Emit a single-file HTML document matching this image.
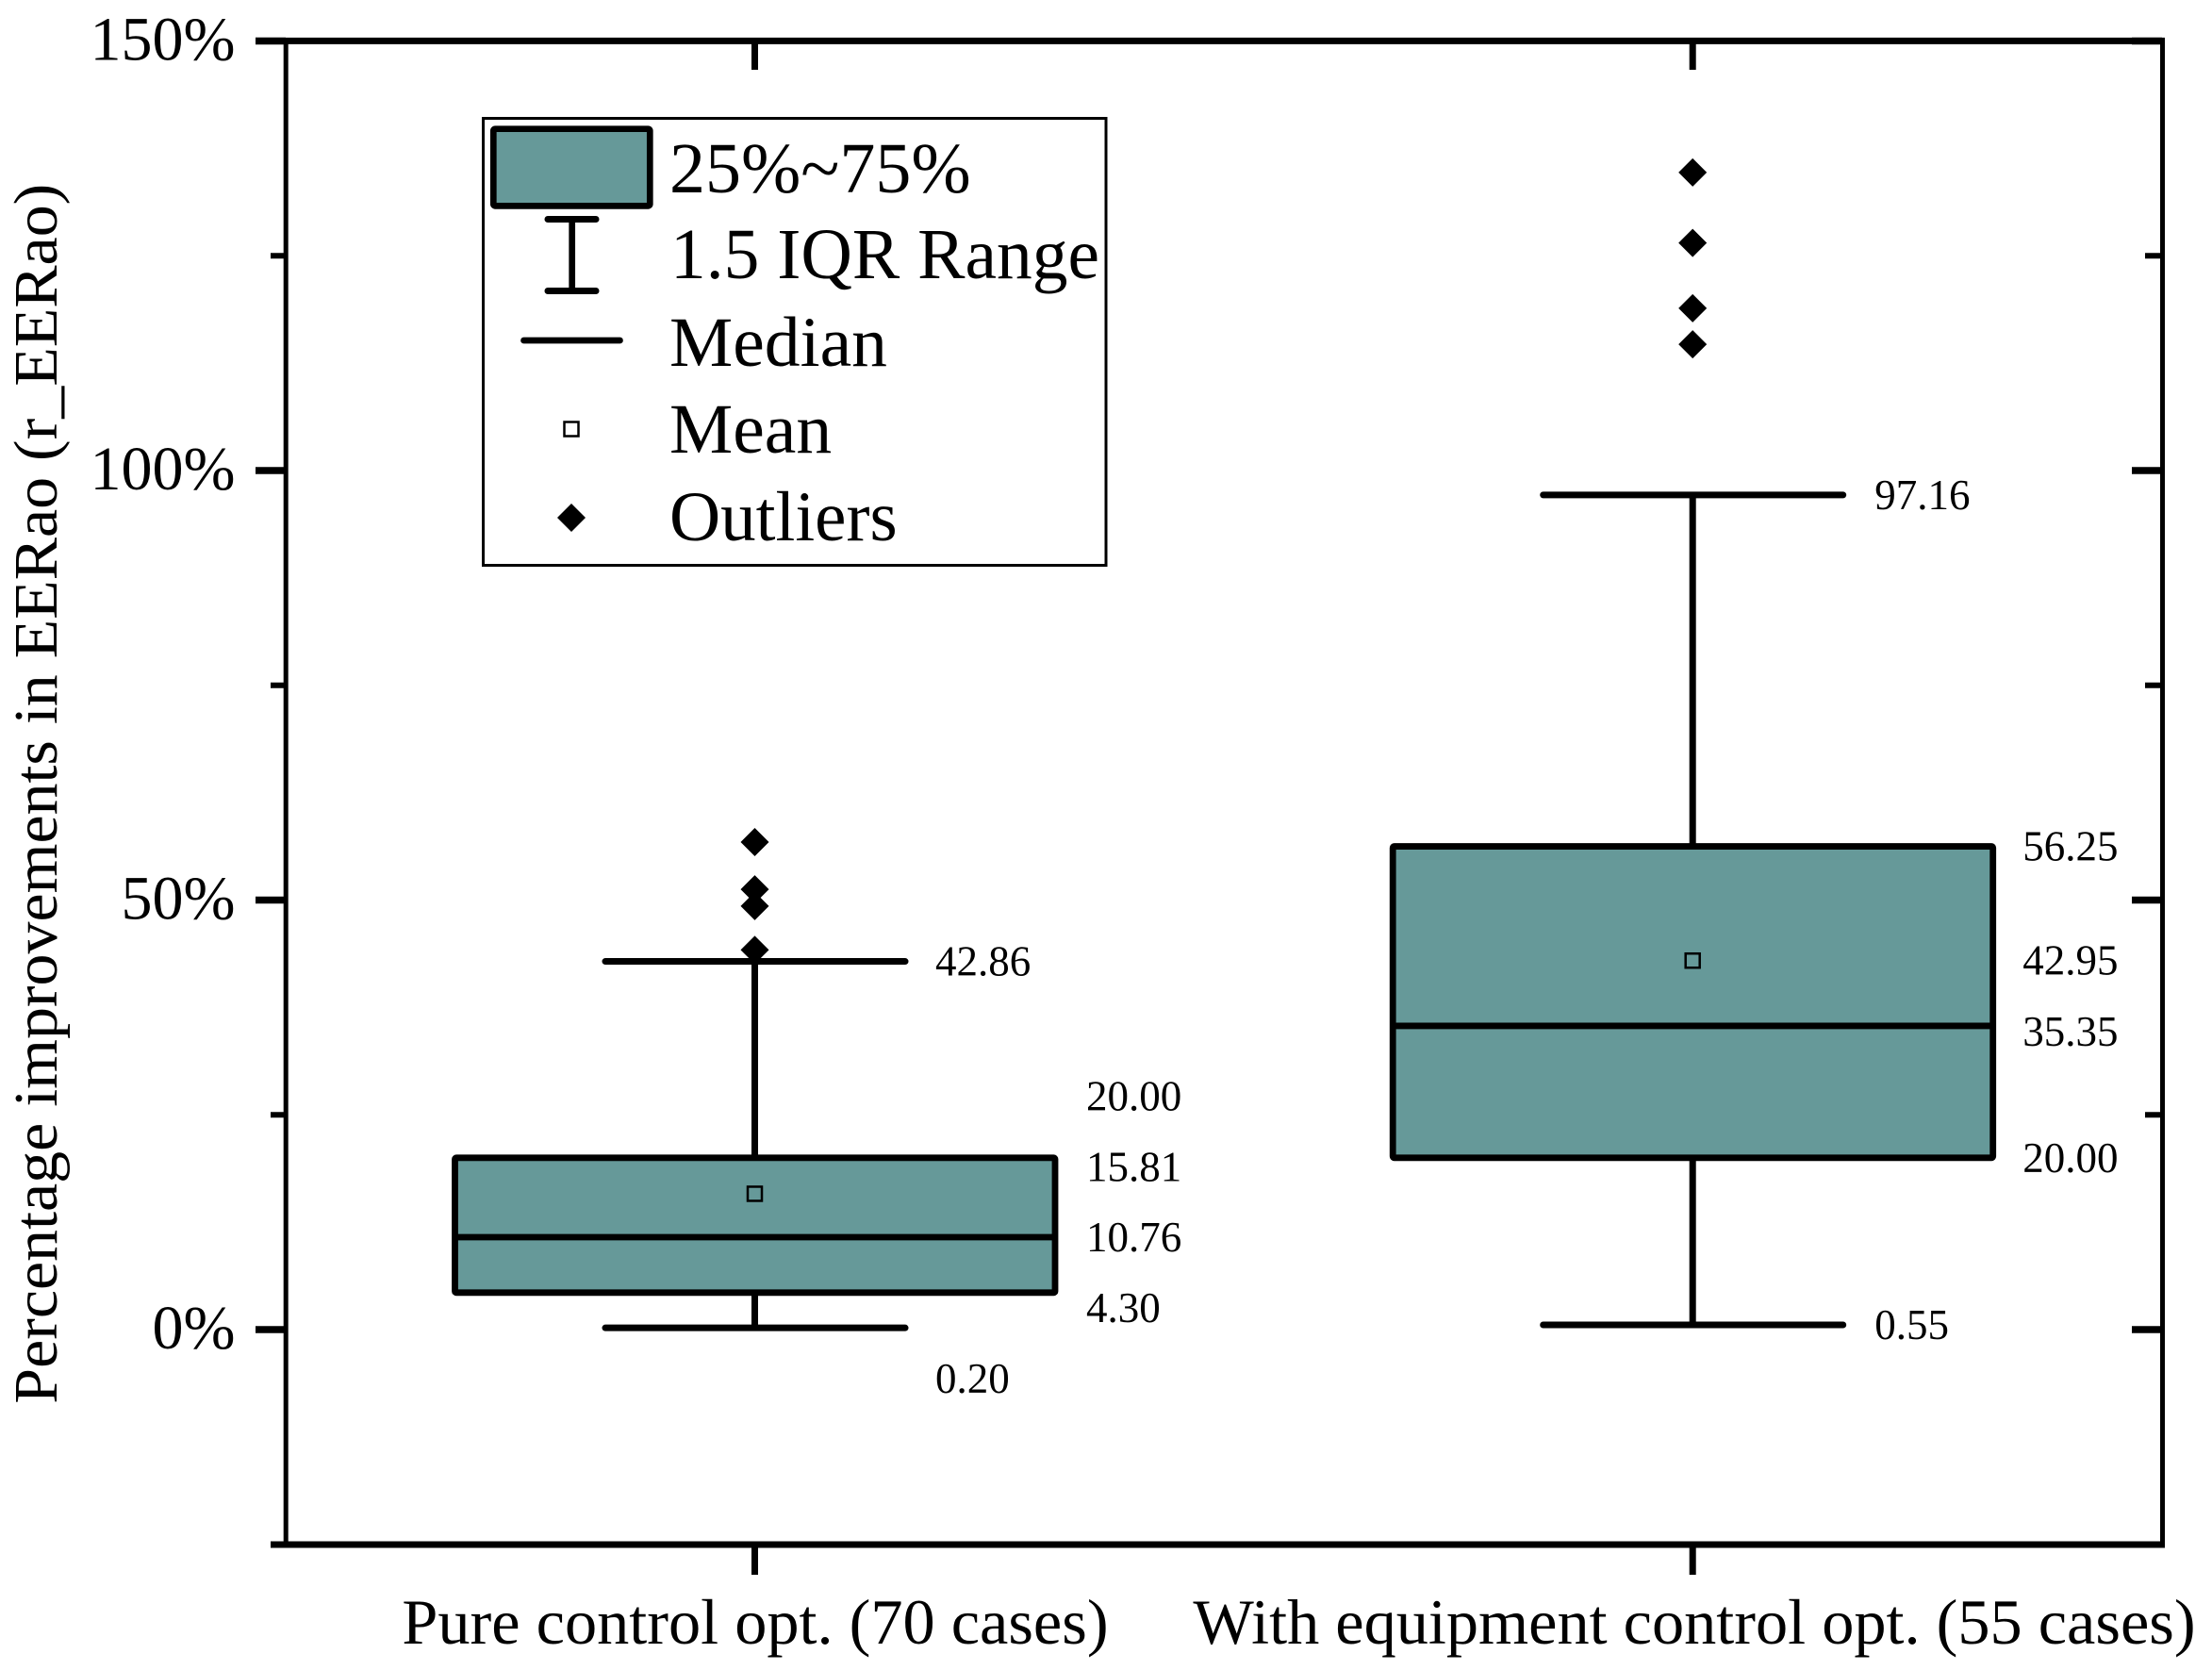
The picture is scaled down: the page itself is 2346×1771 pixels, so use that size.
<!DOCTYPE html>
<html lang="en">
<head>
<meta charset="utf-8">
<title>Percentage improvements in EERao</title>
<style>
html,body{margin:0;padding:0;background:#fff;}
svg{display:block;}
text{font-family:"Liberation Serif","Times New Roman",serif;fill:#000;}
</style>
</head>
<body>
<svg id="chart" xmlns="http://www.w3.org/2000/svg" width="2346" height="1771" viewBox="0 0 2346 1771">
  <rect x="0" y="0" width="2346" height="1771" fill="#fff"/>
  <g id="marks"></g>
  <g id="axes">
    <line x1="303.2" x2="303.2" y1="43.4" y2="1638" stroke="#000" stroke-width="5"/>
    <line x1="2293.5" x2="2293.5" y1="40" y2="1641.5" stroke="#000" stroke-width="5"/>
    <line x1="271" x2="2296" y1="43.4" y2="43.4" stroke="#000" stroke-width="7"/>
    <line x1="287" x2="2296" y1="1638" y2="1638" stroke="#000" stroke-width="7"/>
  </g>
  <text transform="translate(60 841.7) rotate(-90)" text-anchor="middle" font-size="66" textLength="1294" lengthAdjust="spacingAndGlyphs">Percentage improvements in EERao (r_EERao)</text>
  <g id="legend">
    <rect x="512.5" y="125.5" width="660.5" height="474" fill="#fff" stroke="#000" stroke-width="3"/>
    <rect x="523.3" y="136.7" width="166" height="81.7" rx="2" fill="#669999" stroke="#000" stroke-width="6.7"/>
    <text x="710" y="204" font-size="76">25%~75%</text>
    <g stroke="#000" stroke-linecap="round">
      <line x1="606.7" x2="606.7" y1="232.5" y2="308.5" stroke-width="6.7"/>
      <line x1="581" x2="632" y1="232.5" y2="232.5" stroke-width="7"/>
      <line x1="581" x2="632" y1="308.5" y2="308.5" stroke-width="7"/>
    </g>
    <text x="711" y="295" font-size="76" textLength="455" lengthAdjust="spacingAndGlyphs">1.5 IQR Range</text>
    <line x1="555.5" x2="657.5" y1="361" y2="361" stroke="#000" stroke-width="6.7" stroke-linecap="round"/>
    <text x="710" y="388" font-size="75.6">Median</text>
    <rect x="598.5" y="447.5" width="15" height="15" fill="#fff" stroke="#000" stroke-width="2.5"/>
    <text x="710" y="480" font-size="75.6">Mean</text>
    <path d="M606 534 L621 549 L606 564 L591 549 Z" fill="#000"/>
    <text x="710" y="573" font-size="75">Outliers</text>
  </g>
</svg>
<script>
const categories = ["Pure control opt. (70 cases)", "With equipment control opt. (55 cases)"];
const whiskerLow = [0.20, 0.55];
const q1 = [4.30, 20.00];
const medians = [10.76, 35.35];
const means = [15.81, 42.95];
const q3 = [20.00, 56.25];
const whiskerHigh = [42.86, 97.16];
const outliersPure = [56.75, 51.25, 49.3, 44.2];
const outliersEquipment = [134.7, 126.5, 118.9, 114.7];
const majorTicks = [0, 50, 100, 150];
const minorTicks = [25, 75, 125];
const yTickLabels = ["0%", "50%", "100%", "150%"];

const NS = "http://www.w3.org/2000/svg";
const marks = document.getElementById("marks");
const axes = document.getElementById("axes");
const svg = document.getElementById("chart");

function yScale(v) { return 1410 - 9.11 * v; }
function xScale(i) { return 800.5 + 994.7 * i; }

function make(tag, attrs, parent) {
  const el = document.createElementNS(NS, tag);
  for (const k in attrs) el.setAttribute(k, attrs[k]);
  parent.appendChild(el);
  return el;
}
function lineEl(x1, y1, x2, y2, w, parent, cap) {
  return make("line", {x1: x1, y1: y1, x2: x2, y2: y2, stroke: "#000", "stroke-width": w, "stroke-linecap": cap || "butt"}, parent);
}
function textEl(str, x, y, size, anchor, parent) {
  const t = make("text", {x: x, y: y, "font-size": size, "text-anchor": anchor}, parent);
  t.textContent = str;
  return t;
}

/* ticks */
majorTicks.forEach(function (v, i) {
  const y = yScale(v);
  const left = lineEl(271, y, 303, y, 7.5, axes);
  
  
  const right = lineEl(2261, y, 2293, y, 7.5, axes);
  
  
  const label = textEl(yTickLabels[i], 249.5, y + 20, 66, "end", svg);
  
  
});
minorTicks.forEach(function (v) {
  const y = yScale(v);
  const left = lineEl(287, y, 303, y, 6, axes);
  
  
  const right = lineEl(2275, y, 2293, y, 6, axes);
  
  
});
categories.forEach(function (c, i) {
  const x = xScale(i);
  const top = lineEl(x, 44, x, 74, 7, axes);
  
  
  const bottom = lineEl(x, 1638, x, 1670, 7, axes);
  
  
  const label = textEl(c, x + (i === 0 ? 0.5 : 1.8), 1743, 68.3, "middle", svg);
  
  
});

/* boxes */
const allOutliers = [outliersPure, outliersEquipment];
categories.forEach(function (c, i) {
  const x = xScale(i);
  const group = make("g", {}, marks);
  
  

  const stem = lineEl(x, yScale(whiskerLow[i]), x, yScale(whiskerHigh[i]), 7, group);
  
  

  const capHigh = lineEl(x - 158.5, yScale(whiskerHigh[i]), x + 159.5, yScale(whiskerHigh[i]), 7, group, "round");
  
  

  const capLow = lineEl(x - 158.5, yScale(whiskerLow[i]), x + 159.5, yScale(whiskerLow[i]), 7, group, "round");
  
  

  const box = make("rect", {x: x - 318, y: yScale(q3[i]), width: 636.5, height: yScale(q1[i]) - yScale(q3[i]), fill: "#669999", stroke: "#000", "stroke-width": 6.8, rx: 1.5}, group);
  
  

  const median = lineEl(x - 318, yScale(medians[i]), x + 318.5, yScale(medians[i]), 6.8, group);
  
  

  const meanMark = make("rect", {x: x - 7.5, y: yScale(means[i]) - 7.5, width: 15, height: 15, fill: "none", stroke: "#000", "stroke-width": 2.5}, group);
  
  

  allOutliers[i].forEach(function (v) {
    const y = yScale(v);
    const d = make("path", {d: "M" + x + " " + (y - 15) + " L" + (x + 15) + " " + y + " L" + x + " " + (y + 15) + " L" + (x - 15) + " " + y + " Z", fill: "#000"}, group);
    
    
  });
});

/* printed values */
function fmt(v) { return v.toFixed(2); }
function valueLabel(v, x, y) {
  const t = textEl(fmt(v), x, y + 15, 45, "start", svg);
  
  
}
/* first box: labels are stacked at an even spacing beside the box */
[q3[0], means[0], medians[0], q1[0]].forEach(function (v, k) {
  valueLabel(v, xScale(0) + 351.5, 1162.5 + 74.8 * k);
});
valueLabel(whiskerHigh[0], xScale(0) + 191.5, yScale(whiskerHigh[0]));
valueLabel(whiskerLow[0], xScale(0) + 191.5, yScale(whiskerLow[0]) + 54);
/* second box: labels follow their values */
valueLabel(q3[1], xScale(1) + 350, yScale(q3[1]));
valueLabel(means[1], xScale(1) + 350, yScale(means[1]));
valueLabel(medians[1], xScale(1) + 350, yScale(medians[1]) + 6);
valueLabel(q1[1], xScale(1) + 350, yScale(q1[1]));
valueLabel(whiskerHigh[1], xScale(1) + 193, yScale(whiskerHigh[1]));
valueLabel(whiskerLow[1], xScale(1) + 193, yScale(whiskerLow[1]));
</script>
</body>
</html>
